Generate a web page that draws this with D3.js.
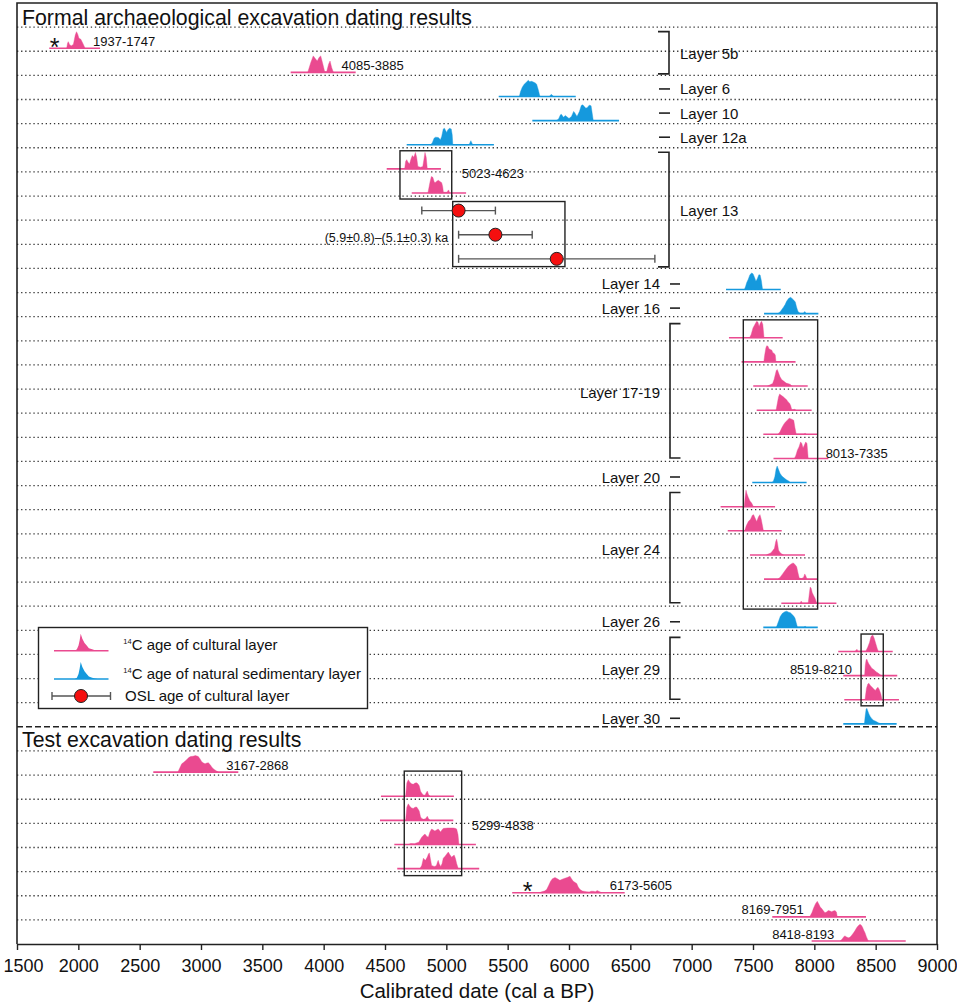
<!DOCTYPE html>
<html><head><meta charset="utf-8">
<script src="https://cdn.jsdelivr.net/npm/d3@7"></script>
<style>
body{margin:0;background:#fff}
svg{display:block}
text{font-family:"Liberation Sans",Arial,Helvetica,sans-serif;fill:#111}
</style>
</head><body>
<svg id="chart" width="957" height="1003"></svg>
<script>
// ---------------- DATA ----------------
const sectionTitles = ["Formal archaeological excavation dating results", "Test excavation dating results"];
const rowIds = ["F","f1","f2","f3","f4","f5","f6","f7","f8","f9","f10","f11","f12","f13","f14","f15","f16","f17","f18","f19","f20","f21","f22","f23","f24","f25","f26","f27","f28","f29",
                "T","t1","t2","t3","t4","t5","t6","t7","t8"];
const xTicks = [1500,2000,2500,3000,3500,4000,4500,5000,5500,6000,6500,7000,7500,8000,8500,9000];
const xTitle = "Calibrated date (cal a BP)";

// calibrated 14C probability distributions (year cal BP, relative probability %)
const distRow  = ["f1","f2","f3","f4","f5","f6","f7","f11","f12","f13","f14","f15","f16","f17","f18","f19","f20","f21","f22","f23","f24","f25","f26","f27","f28","f29","t1","t2","t3","t4","t5","t6","t7","t8"];
const distKind = ["c","c","n","n","n","c","c","n","n","c","c","c","c","c","c","n","c","c","c","c","c","n","c","c","c","n","c","c","c","c","c","c","c","c"];
const distSpan = [[1763,2177],[3731,4261],[5427,6055],[5701,6408],[4677,5388],[4514,4956],[4718,5161],[7280,7726],[7590,8033],
  [7304,7742],[7407,7847],[7502,7946],[7530,7978],[7584,8025],[7667,8114],[7494,7937],[7236,7680],[7294,7734],[7475,7924],[7590,8025],[7731,8180],
  [7584,8028],[8195,8639],[8236,8676],[8244,8690],[8236,8671],[2611,3304],[4467,5062],[4459,5057],[4576,5241],[4600,5268],[5537,6454],[7657,8421],[7978,8745]];
const distProfile = [
  [[1905,0],[1912,30],[1918,40],[1930,20],[1945,15],[1960,25],[1975,80],[1985,100],[1995,85],[2005,60],[2020,55],[2040,25],[2055,0]],
  [[3870,0],[3895,60],[3915,100],[3930,85],[3948,69],[3962,90],[3976,100],[3990,60],[4008,5],[4025,5],[4040,50],[4052,69],[4065,30],[4080,0]],
  [[5595,0],[5605,30],[5619,56],[5635,75],[5650,85],[5668,98],[5680,90],[5695,92],[5709,88],[5725,82],[5736,75],[5750,40],[5763,0],[5840,0],[5855,13],[5875,0]],
  [[5895,0],[5915,10],[5930,35],[5938,38],[5955,20],[5970,31],[5980,25],[6000,13],[6020,25],[6038,56],[6045,50],[6065,25],[6085,55],[6100,92],[6112,96],[6125,85],[6138,75],[6150,80],[6165,94],[6180,90],[6190,40],[6198,0]],
  [[4870,0],[4885,10],[4900,40],[4912,46],[4935,44],[4952,31],[4962,50],[4975,96],[4985,100],[4995,85],[5003,75],[5012,90],[5025,100],[5040,96],[5048,60],[5053,0],[5185,0],[5200,25],[5215,0]],
  [[4660,0],[4668,45],[4677,56],[4688,40],[4700,30],[4712,60],[4723,81],[4735,70],[4748,100],[4758,70],[4768,15],[4790,10],[4808,15],[4818,60],[4826,100],[4836,70],[4845,0]],
  [[4850,0],[4860,40],[4867,67],[4878,100],[4890,95],[4900,70],[4908,63],[4922,72],[4935,77],[4948,70],[4962,63],[4970,40],[4976,5],[5005,5],[5018,19],[5028,0]],
  [[7430,0],[7440,20],[7449,42],[7460,60],[7475,90],[7489,100],[7500,95],[7512,75],[7524,50],[7535,65],[7548,90],[7558,88],[7568,55],[7578,0]],
  [[7700,0],[7720,10],[7747,38],[7762,55],[7774,75],[7790,92],[7807,100],[7820,90],[7835,80],[7845,70],[7855,40],[7866,15],[7877,6],[7890,3],[7910,3],[7922,13],[7935,0]],
  [[7472,0],[7485,20],[7500,60],[7515,80],[7530,100],[7540,95],[7550,69],[7560,90],[7570,100],[7580,80],[7590,0]],
  [[7588,0],[7595,40],[7605,85],[7612,98],[7622,95],[7630,80],[7640,75],[7652,72],[7662,56],[7675,50],[7682,40],[7687,0]],
  [[7620,0],[7640,8],[7660,15],[7672,40],[7682,70],[7690,95],[7698,100],[7708,80],[7720,56],[7735,38],[7750,30],[7770,18],[7790,14],[7805,10],[7816,0]],
  [[7688,0],[7698,40],[7708,80],[7717,98],[7730,90],[7747,81],[7760,72],[7774,63],[7786,50],[7796,44],[7806,30],[7816,2],[7840,5],[7850,0]],
  [[7704,0],[7720,15],[7735,40],[7750,60],[7765,75],[7780,85],[7795,98],[7805,95],[7820,90],[7832,85],[7842,40],[7852,2],[7915,2],[7925,6],[7935,0]],
  [[7838,0],[7850,20],[7862,50],[7875,70],[7888,100],[7898,90],[7908,63],[7918,80],[7930,100],[7940,90],[7950,0]],
  [[7650,0],[7665,6],[7678,35],[7688,80],[7697,100],[7705,85],[7720,56],[7735,40],[7750,30],[7770,18],[7790,10],[7805,0]],
  [[7428,0],[7436,60],[7443,100],[7450,80],[7462,56],[7475,35],[7489,22],[7500,5],[7503,0]],
  [[7432,0],[7445,30],[7462,56],[7480,70],[7495,95],[7505,98],[7515,80],[7530,56],[7545,85],[7557,98],[7567,70],[7575,40],[7585,0]],
  [[7610,0],[7625,6],[7645,12],[7660,25],[7675,40],[7685,80],[7693,96],[7700,70],[7708,30],[7720,15],[7735,6],[7748,0]],
  [[7704,0],[7720,10],[7740,30],[7760,50],[7775,65],[7790,80],[7805,88],[7818,95],[7829,98],[7842,88],[7856,75],[7866,40],[7877,6],[7895,3],[7912,10],[7922,31],[7930,20],[7940,0]],
  [[7885,0],[7893,13],[7900,0],[7950,0],[7958,50],[7966,98],[7974,90],[7983,63],[7995,45],[8005,31],[8015,10],[8020,0]],
  [[7690,0],[7700,20],[7712,45],[7722,65],[7740,85],[7760,95],[7775,98],[7790,92],[7805,88],[7815,81],[7830,70],[7842,56],[7852,30],[7862,2],[7915,2],[7925,6],[7935,0]],
  [[8330,0],[8340,8],[8348,13],[8355,3],[8420,3],[8435,25],[8450,55],[8462,90],[8476,100],[8488,80],[8500,50],[8512,20],[8522,0]],
  [[8410,0],[8415,60],[8422,95],[8428,100],[8435,85],[8445,70],[8455,60],[8468,45],[8481,38],[8495,30],[8508,20],[8520,15],[8535,6],[8545,0]],
  [[8413,0],[8425,70],[8436,95],[8444,100],[8455,88],[8471,75],[8485,65],[8497,56],[8510,70],[8519,75],[8530,60],[8542,35],[8552,0]],
  [[8408,0],[8415,50],[8422,88],[8428,94],[8435,80],[8445,60],[8455,45],[8470,30],[8485,20],[8495,18],[8508,12],[8522,6],[8535,3],[8545,0]],
  [[2812,0],[2830,30],[2843,50],[2860,60],[2883,75],[2900,88],[2915,94],[2935,96],[2955,100],[2978,94],[2992,80],[3006,63],[3020,55],[3033,50],[3048,55],[3060,56],[3075,45],[3087,31],[3100,20],[3114,13],[3130,5],[3141,0]],
  [[4668,0],[4678,80],[4690,100],[4702,85],[4717,75],[4730,72],[4745,80],[4758,81],[4768,75],[4779,63],[4790,30],[4799,19],[4812,8],[4826,6],[4835,20],[4845,31],[4855,10],[4867,0]],
  [[4668,0],[4678,80],[4690,100],[4702,85],[4717,75],[4730,72],[4745,80],[4758,81],[4768,70],[4779,56],[4790,20],[4800,12],[4812,6],[4830,10],[4845,25],[4855,10],[4867,0]],
  [[4690,0],[4710,6],[4740,5],[4760,10],[4775,13],[4788,30],[4799,44],[4812,55],[4826,63],[4840,50],[4853,44],[4866,75],[4880,94],[4894,88],[4907,81],[4920,88],[4934,94],[4944,85],[4954,75],[4965,90],[4978,98],[4989,98],[5010,100],[5035,100],[5057,100],[5072,98],[5084,94],[5095,60],[5103,0]],
  [[4785,0],[4800,20],[4813,63],[4822,55],[4830,50],[4845,70],[4855,90],[4862,94],[4870,60],[4880,19],[4895,15],[4907,13],[4920,20],[4928,40],[4934,50],[4942,30],[4954,13],[4965,30],[4975,63],[4990,75],[5005,90],[5016,100],[5028,85],[5043,69],[5055,78],[5065,81],[5075,60],[5084,31],[5097,0]],
  [[5760,0],[5777,6],[5800,10],[5818,19],[5835,45],[5850,70],[5865,85],[5886,92],[5905,85],[5926,75],[5945,82],[5967,88],[5985,92],[6008,100],[6020,85],[6035,69],[6050,62],[6063,56],[6075,35],[6090,19],[6110,10],[6130,8],[6144,6],[6165,5],[6180,9],[6198,9],[6215,6],[6230,13],[6245,8],[6260,3],[6267,0]],
  [[7962,0],[7980,25],[7995,55],[8010,80],[8024,94],[8035,80],[8048,60],[8060,50],[8075,35],[8087,25],[8100,30],[8114,38],[8128,35],[8141,31],[8155,36],[8168,38],[8180,30],[8187,0]],
  [[8212,0],[8230,15],[8242,28],[8250,31],[8262,25],[8277,19],[8290,22],[8305,35],[8320,50],[8332,63],[8345,80],[8358,92],[8370,100],[8380,98],[8392,85],[8403,65],[8413,50],[8425,25],[8440,0]]
];
const starredRows = ["f1","t6"];

// range labels next to single distributions
const rangeLabelText = ["1937-1747","4085-3885","3167-2868","6173-5605","8169-7951","8418-8193"];
const rangeLabelRow  = ["f1","f2","t1","t6","t7","t8"];
const rangeLabelSide = ["right","right","right","right","left","left"];

// OSL ages (years BP)
const oslRow = ["f8","f9","f10"];
const oslAge = [5100,5400,5900];
const oslErr = [300,300,800];

// grouping boxes
const boxFirst = ["f6","f8","f13","f26","t2"];
const boxLast  = ["f7","f10","f24","f28","t5"];
const boxYears = [[4622,5044],[5052,5967],[7421,8027],[8381,8562],[4657,5125]];
const boxLabel = ["5023-4623","(5.9\u00b10.8)\u2013(5.1\u00b10.3) ka","8013-7335","8519-8210","5299-4838"];
const boxLabelSide = ["right","left","right","left","right"];
const boxLabelRow  = [null, null, "f18", null, null];

// stratigraphic layers
const layerName  = ["Layer 5b","Layer 6","Layer 10","Layer 12a","Layer 13","Layer 14","Layer 16","Layer 17-19","Layer 20","Layer 24","Layer 26","Layer 29","Layer 30"];
const layerFirst = ["f1","f3","f4","f5","f6","f11","f12","f13","f19","f20","f25","f26","f29"];
const layerLast  = ["f2","f3","f4","f5","f10","f11","f12","f18","f19","f24","f25","f28","f29"];

// legend
const legendSup  = ["14","14",""];
const legendText = ["C age of cultural layer","C age of natural sedimentary layer","OSL age of cultural layer"];
const legendKind = ["c","n","osl"];
const legendShape = [[0,0],[0.38,0],[0.42,8],[0.45,30],[0.47,60],[0.49,100],[0.52,70],[0.56,45],[0.6,30],[0.64,15],[0.7,8],[0.75,3],[0.8,0],[1,0]];

// ---------------- DRAW ----------------
const COLORS = {c:"#EA4A90", n:"#1599DD"};
const svg = d3.select("#chart");
const x = d3.scaleLinear().domain([1500,9000]).range([17,937]);
const y = d3.scaleBand().domain(rowIds).range([3,944]);
const bw = y.bandwidth();
const base = id => y(id) + bw - 3;
const mid = id => y(id) + bw/2;
const hs = d3.scaleLinear().domain([0,100]).range([0,16.5]);

// grid lines
const gridIds = rowIds.filter(id => id !== "F" && id !== "T");
svg.append("g").selectAll("line").data(gridIds).join("line")
  .attr("x1", x(1500)).attr("x2", x(9000))
  .attr("y1", d => y(d)).attr("y2", d => y(d))
  .attr("stroke", "#333").attr("stroke-width", 1.3).attr("stroke-dasharray", "1.3 2.8");
svg.append("line").attr("x1", x(1500)).attr("x2", x(9000)).attr("y1", y("T")).attr("y2", y("T"))
  .attr("stroke", "#222").attr("stroke-width", 1.5).attr("stroke-dasharray", "6 3");

// section titles
svg.append("text").attr("x", 22).attr("y", y("F") + bw/2 + 3).attr("dominant-baseline","central")
  .attr("font-size", 21.3).text(sectionTitles[0]);
svg.append("text").attr("x", 22).attr("y", y("T") + bw/2 + 1).attr("dominant-baseline","central")
  .attr("font-size", 21.3).text(sectionTitles[1]);

// distributions
const gDist = svg.append("g");
distRow.forEach((id, i) => {
  const b = base(id);
  const col = COLORS[distKind[i]];
  gDist.append("line").attr("x1", x(distSpan[i][0])).attr("x2", x(distSpan[i][1]))
    .attr("y1", b).attr("y2", b).attr("stroke", col).attr("stroke-width", 1.6);
  const area = d3.area().x(d => x(d[0])).y0(b).y1(d => b - hs(d[1]));
  gDist.append("path").attr("d", area(distProfile[i])).attr("fill", col).attr("stroke", col).attr("stroke-width", 0.4);
  if (starredRows.includes(id)) {
    gDist.append("text").attr("x", x(distProfile[i][0][0]) - 12).attr("y", b + 7.5)
      .attr("text-anchor","middle").attr("font-size", 25).attr("fill","#222").text("*");
  }
});

// range labels
rangeLabelRow.forEach((id, i) => {
  const p = distProfile[distRow.indexOf(id)];
  const right = rangeLabelSide[i] === "right";
  svg.append("text")
    .attr("x", right ? x(p[p.length-1][0]) + 8 : x(p[0][0]) - 6)
    .attr("y", base(id) - 7).attr("dominant-baseline","central")
    .attr("text-anchor", right ? "start" : "end")
    .attr("font-size", 13).text(rangeLabelText[i]);
});

// boxes
const boxPadTop = [3, 5.5, 3.2, 3.7, -4];
const boxPadBot = [3, -1.8, 2.9, 3.1, 4];
const boxGap = [10, 4.5, 8, 9, 10];
const boxDy = [-1, 3.5, 4, 0, 2.5];
boxFirst.forEach((f, i) => {
  const t = y(f) + boxPadTop[i], b = y(boxLast[i]) + bw + boxPadBot[i];
  const x0 = x(boxYears[i][0]), x1 = x(boxYears[i][1]);
  svg.append("rect").attr("x", x0).attr("y", t).attr("width", x1 - x0).attr("height", b - t)
    .attr("fill","none").attr("stroke","#222").attr("stroke-width", 1.4);
  const right = boxLabelSide[i] === "right";
  const ly = (boxLabelRow[i] ? mid(boxLabelRow[i]) : (t + b)/2) + boxDy[i];
  svg.append("text").attr("x", right ? x1 + boxGap[i] : x0 - boxGap[i]).attr("y", ly)
    .attr("dominant-baseline","central").attr("text-anchor", right ? "start" : "end")
    .attr("font-size", i === 1 ? 12.5 : 13).attr("fill", i === 1 ? "#333" : "#111").text(boxLabel[i]);
});

// OSL ages
oslRow.forEach((id, i) => {
  const cy = mid(id) + 2.5;
  const g = svg.append("g").attr("stroke", "#555").attr("stroke-width", 1.4);
  g.append("line").attr("x1", x(oslAge[i]-oslErr[i])).attr("x2", x(oslAge[i]+oslErr[i])).attr("y1", cy).attr("y2", cy);
  [oslAge[i]-oslErr[i], oslAge[i]+oslErr[i]].forEach(v =>
    g.append("line").attr("x1", x(v)).attr("x2", x(v)).attr("y1", cy-4).attr("y2", cy+4));
  svg.append("circle").attr("cx", x(oslAge[i])).attr("cy", cy).attr("r", 6.5)
    .attr("fill", "#F50F0F").attr("stroke", "#222").attr("stroke-width", 1);
});

// layer annotations
layerName.forEach((name, i) => {
  const rightLbl = i < 5;
  const single = layerFirst[i] === layerLast[i];
  const top = y(layerFirst[i]), bot = y(layerLast[i]) + bw;
  let yc;
  if (single) {
    yc = (top + bot)/2 + (rightLbl ? 1.5 : 3.5);
    const xa = rightLbl ? 659 : 670, xb = rightLbl ? 670 : 680;
    svg.append("line").attr("x1", xa).attr("x2", xb).attr("y1", yc).attr("y2", yc)
      .attr("stroke","#222").attr("stroke-width", 1.6);
  } else {
    const t = top + (rightLbl ? 4.5 : 7), b = bot - (rightLbl ? 1.5 : 3.5);
    const xv = rightLbl ? 669 : 670, xarm = rightLbl ? 658 : 680.5;
    svg.append("path").attr("d", `M${xarm},${t}H${xv}V${b}H${xarm}`)
      .attr("fill","none").attr("stroke","#222").attr("stroke-width", 1.6);
    yc = (t + b)/2 + (rightLbl ? 0.5 : 1.5);
  }
  svg.append("text").attr("x", rightLbl ? 680 : 660).attr("y", yc)
    .attr("dominant-baseline","central").attr("text-anchor", rightLbl ? "start" : "end")
    .attr("font-size", 15).text(name);
});

// legend
const lg = svg.append("g");
lg.append("rect").attr("x", 38.5).attr("y", 627.5).attr("width", 329).attr("height", 81)
  .attr("fill", "#fff").attr("stroke", "#222").attr("stroke-width", 1.4);
const lx = d3.scaleLinear().domain([0,1]).range([54,108.5]);
const legBase = [650.7, 679, 696];
legendKind.forEach((k, i) => {
  const b = legBase[i];
  if (k === "osl") {
    lg.append("line").attr("x1", lx(0) - 2).attr("x2", lx(1) + 2).attr("y1", b).attr("y2", b).attr("stroke","#555").attr("stroke-width",1.4);
    [lx(0) - 2, lx(1) + 2].forEach(v => lg.append("line").attr("x1", v).attr("x2", v).attr("y1", b-4).attr("y2", b+4).attr("stroke","#555").attr("stroke-width",1.4));
    lg.append("circle").attr("cx", 81).attr("cy", b).attr("r", 6.5).attr("fill","#F50F0F").attr("stroke","#222");
    lg.append("text").attr("x", 125).attr("y", b + 5.4).attr("font-size", 15).text(legendText[i]);
  } else {
    const col = COLORS[k];
    lg.append("line").attr("x1", lx(0)).attr("x2", lx(1)).attr("y1", b).attr("y2", b).attr("stroke", col).attr("stroke-width", 1.6);
    const area = d3.area().x(d => lx(d[0])).y0(b).y1(d => b - d[1]*0.17);
    lg.append("path").attr("d", area(legendShape)).attr("fill", col);
    const t = lg.append("text").attr("x", 123.3).attr("y", b - 5.7 + 5.4).attr("font-size", 15);
    t.append("tspan").attr("font-size", 7.5).attr("dy", -6).text(legendSup[i]);
    t.append("tspan").attr("dy", 6).text(legendText[i]);
  }
});

// frame
svg.append("path").attr("d", `M${x(1500)},944V3H${x(9000)}V944`).attr("fill","none").attr("stroke","#222").attr("stroke-width",1.6);

// axis
const axG = svg.append("g").attr("transform", "translate(0,944)");
axG.call(d3.axisBottom(x).tickValues(d3.range(1500, 9001, 100)).tickSize(3).tickSizeOuter(0).tickFormat(""));
axG.call(d3.axisBottom(x).tickValues(xTicks).tickSize(6).tickSizeOuter(0).tickFormat(d3.format("d")));
axG.selectAll("path.domain").attr("stroke","#222").attr("stroke-width",1.6);
axG.selectAll(".tick line").attr("stroke","#222").attr("stroke-width",1.4);
axG.selectAll(".tick text").attr("y", 22).attr("dy","0.35em").attr("font-size", 18)
  .attr("font-family", '"Liberation Sans",Arial,sans-serif').attr("fill","#111")
  .attr("x", d => d === xTicks[0] ? 6 : 0);
svg.append("text").attr("x", 477).attr("y", 990).attr("dominant-baseline","central").attr("text-anchor","middle")
  .attr("font-size", 20.5).text(xTitle);
</script>
</body></html>
